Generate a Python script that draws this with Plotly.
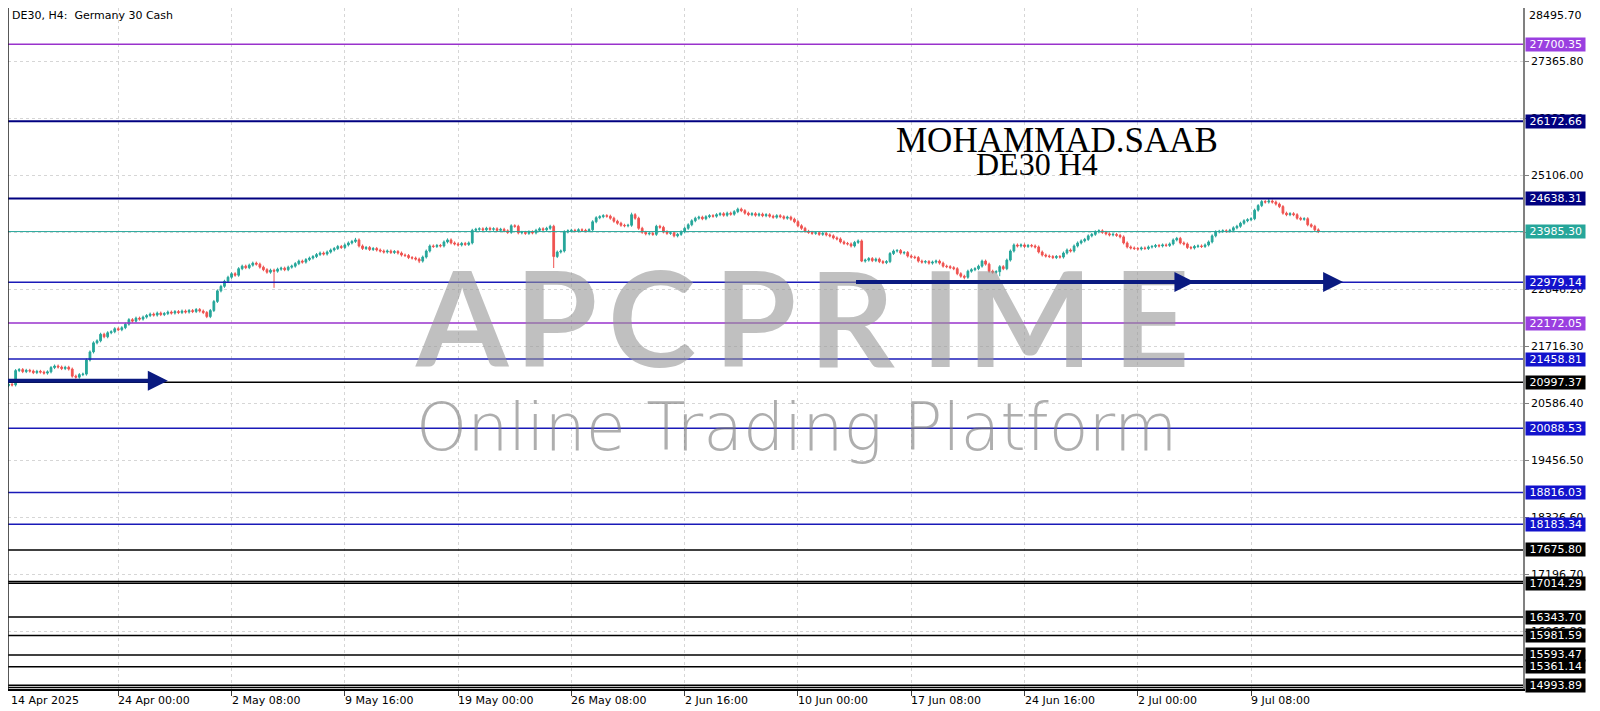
import plotly.graph_objects as go

# ---------------- data ----------------
closes = [
    20930, 20960, 20945, 21230, 21250, 21210, 21235, 21220, 21190, 21215,
    21200, 21180, 21205, 21290, 21320, 21300, 21270, 21295, 21260, 21120,
    21100, 21150, 21160, 21440, 21600, 21780, 21820, 21950, 21900, 21980,
    22000, 22060, 22040, 22080, 22150, 22240, 22210, 22270, 22250, 22290,
    22320, 22350, 22330, 22370, 22340, 22360, 22390, 22370, 22400, 22380,
    22410, 22390, 22420, 22400, 22440, 22410, 22380, 22300, 22420, 22600,
    22810, 22900, 23000, 23080, 23150, 23120, 23250, 23300, 23270, 23320,
    23360, 23340, 23280, 23230, 23180, 23220, 23200, 23240, 23260, 23230,
    23280, 23300, 23350, 23400, 23380, 23430, 23460, 23490, 23530, 23560,
    23540, 23580, 23620, 23650, 23690, 23670, 23720, 23760, 23790, 23820,
    23700, 23650, 23670, 23630, 23650, 23620, 23600, 23580, 23600, 23570,
    23590, 23560, 23520, 23510, 23470, 23460, 23440, 23400, 23480, 23600,
    23700, 23690, 23710, 23700, 23780, 23820, 23760, 23740, 23720, 23750,
    23730, 23760, 24010, 24030, 24040, 24020, 24050, 24030, 24040, 24010,
    24030, 24000, 23970, 24100, 24090, 23960, 23970, 23950, 23980, 23960,
    24010, 24040, 24020, 24050, 24090, 23490, 23580, 23600, 23980, 24000,
    24010, 24000, 24020, 24010, 24000, 24020, 24180, 24260, 24280, 24300,
    24290, 24250, 24190, 24150, 24110, 24100, 24110, 24320, 24250, 24050,
    23970, 23940, 23950, 23930, 24090, 24070, 23980, 23950, 23960, 23900,
    23930, 23980, 24050, 24120, 24200, 24250, 24270, 24240, 24280, 24300,
    24290, 24320, 24340, 24310, 24350, 24330, 24380, 24430, 24400, 24350,
    24320, 24340, 24310, 24330, 24300, 24320, 24290, 24270, 24300, 24280,
    24250, 24270, 24230, 24180, 24100, 24050, 23990, 23970, 23950, 23960,
    23930, 23950, 23920, 23900, 23860, 23840, 23780, 23750, 23740, 23700,
    23770, 23800, 23400, 23420, 23450, 23410, 23440, 23390, 23370, 23390,
    23550, 23600, 23610, 23560, 23570, 23500, 23480, 23470, 23400, 23380,
    23390, 23360, 23380, 23400, 23360, 23300, 23290, 23270, 23250, 23150,
    23100, 23080, 23200, 23230, 23250, 23300, 23400, 23340, 23200, 23180,
    23190, 23290, 23250, 23420, 23600, 23720, 23700, 23720, 23690, 23710,
    23700, 23680, 23580, 23520, 23500, 23490, 23470, 23490, 23480, 23560,
    23620, 23600, 23700, 23760, 23800, 23830, 23900, 23930, 23980, 24000,
    23970, 23940, 23920, 23930, 23910, 23880, 23760, 23680, 23660, 23650,
    23640, 23660, 23650, 23680, 23690, 23710, 23700, 23720, 23710, 23740,
    23820, 23850, 23760, 23740, 23670, 23660, 23690, 23700, 23690, 23720,
    23780, 23900, 23980, 23990, 24000, 23990, 24010, 24060, 24090, 24150,
    24200, 24220, 24240, 24410, 24500, 24580, 24570, 24590, 24570, 24530,
    24480, 24350, 24320, 24340, 24320, 24250, 24230, 24240, 24120, 24090,
    24020, 23985.30,
]
first_open = 20910
long_highs = {99: 23860, 177: 24360, 207: 24460, 357: 24630}
long_lows = {76: 22870, 117: 23360, 155: 23263, 242: 23380, 271: 23040, 281: 23100}

x_tick_bars = [0, 32, 64, 96, 128, 160, 192, 224, 256, 288, 320, 352]
x_tick_labels = ["14 Apr 2025", "24 Apr 00:00", "2 May 08:00", "9 May 16:00",
                 "19 May 00:00", "26 May 08:00", "2 Jun 16:00", "10 Jun 00:00",
                 "17 Jun 08:00", "24 Jun 16:00", "2 Jul 00:00", "9 Jul 08:00"]

y_tick_vals = [28495.70, 27365.80, 26235.90, 25106.00, 23976.10, 22846.20,
               21716.30, 20586.40, 19456.50, 18326.60, 17196.70, 16066.80]

level_values = [27700.35, 26172.66, 24638.31, 23985.30, 22979.14, 22172.05,
                21458.81, 20997.37, 20088.53, 18816.03, 18183.34, 17675.80,
                17050.00, 17014.29, 16343.70, 15981.59, 15593.47, 15361.14,
                14993.89, 14950.00]
level_kinds = ["purple", "navy", "navy", "current", "blue", "purple",
               "blue", "black", "blue", "blue", "blue", "black",
               "black", "black", "black", "black", "black", "black",
               "black", "black"]
level_show_label = [True, True, True, True, True, True, True, True, True, True,
                    True, True, False, True, True, True, True, True, True, False]

arrows = [  # (start bar, end bar, price)
    (0, 46, 21030),
    (240, 336, 22985),
    (240, 378, 22985),
]

symbol_text = "DE30, H4:  Germany 30 Cash"
author_text = "MOHAMMAD.SAAB"
sub_text = "DE30 H4"
logo_letters = ["A", "P", "C", "P", "R", "I", "M", "E"]
logo_tagline = "Online Trading Platform"

# ---------------- geometry (page pixels; the page body adds an 8px offset) ----------------
OFF = 8
W, H = 1600 - OFF, 711 - OFF
PLOT_RIGHT_PAGE, PLOT_BOTTOM_PAGE = 1523, 689
BAR0_PX, BAR_PX = 5.0, 3.54           # page x of bar 0, pixels per bar
Y_REF_PX, Y_REF_VAL, VAL_PER_PX = 4.0, 28495.7, 19.82

def bar_at(px):
    return (px - BAR0_PX) / BAR_PX

def val_at(py):
    return Y_REF_VAL - (py - Y_REF_PX) * VAL_PER_PX

x_range = [bar_at(OFF), bar_at(PLOT_RIGHT_PAGE)]
y_range = [val_at(PLOT_BOTTOM_PAGE), val_at(OFF)]

# ---------------- build ----------------
n = len(closes)
bars = list(range(n))
opens = [first_open] + closes[:-1]
wick = 30
highs = [long_highs.get(i, max(o, c) + wick) for i, (o, c) in enumerate(zip(opens, closes))]
lows = [long_lows.get(i, min(o, c) - wick) for i, (o, c) in enumerate(zip(opens, closes))]

style = {
    "purple": dict(line="#9932CC", bg="#9A3FE0", width=1.5),
    "navy": dict(line="#000080", bg="#000080", width=2),
    "current": dict(line="#26A69A", bg="#26A69A", width=1),
    "blue": dict(line="#1A1AB8", bg="#1212CC", width=1.5),
    "black": dict(line="#000000", bg="#000000", width=1.5),
}

fig = go.Figure()
fig.add_trace(go.Candlestick(
    x=bars, open=opens, high=highs, low=lows, close=closes,
    increasing=dict(line=dict(color="#26A69A", width=1), fillcolor="#26A69A"),
    decreasing=dict(line=dict(color="#EF5350", width=1), fillcolor="#EF5350"),
    whiskerwidth=0, showlegend=False, hoverinfo="skip",
))

shapes = []
annotations = []

# watermark logo letters (page x centres)
letter_px = [462, 556, 652, 755, 852, 940, 1030, 1151]
for ch, px in zip(logo_letters, letter_px):
    annotations.append(dict(
        text=ch, x=bar_at(px), y=val_at(315), xref="x", yref="y", showarrow=False,
        xanchor="center", yanchor="middle",
        font=dict(family="Lato", size=133, weight=700, color="rgba(150,150,150,0.6)"),
    ))
annotations.append(dict(
    text=logo_tagline, x=bar_at(796), y=val_at(427), xref="x", yref="y", showarrow=False,
    xanchor="center", yanchor="middle",
    font=dict(family="DejaVu Sans", size=65, weight=300, color="rgba(120,120,120,0.6)"),
))

for v, k in zip(level_values, level_kinds):
    s = style[k]
    shapes.append(dict(type="line", xref="paper", x0=0, x1=1, yref="y", y0=v, y1=v,
                       line=dict(color=s["line"], width=s["width"]), layer="above"))

for v, k, show in zip(level_values, level_kinds, level_show_label):
    if not show:
        continue
    s = style[k]
    annotations.append(dict(
        text="\u00a0" + f"{v:.2f}" + "\u00a0", x=1, xref="paper", xanchor="left", xshift=2,
        y=v, yref="y", yanchor="middle", showarrow=False, bgcolor=s["bg"],
        borderpad=0, font=dict(family="DejaVu Sans", size=11, color="white"),
    ))

for b0, b1, p in arrows:
    annotations.append(dict(
        x=b1, y=p, ax=b0, ay=p, xref="x", yref="y", axref="x", ayref="y",
        text="", showarrow=True, arrowhead=2, arrowsize=1, arrowwidth=4,
        arrowcolor="#0A1A80", standoff=0, startstandoff=0,
    ))

for i, (b, lab) in enumerate(zip(x_tick_bars, x_tick_labels)):
    annotations.append(dict(
        text=lab, x=(0 if i == 0 else b), xref=("paper" if i == 0 else "x"),
        xanchor="left", xshift=(1 if i == 0 else -2), y=0, yref="paper",
        yanchor="top", yshift=-3, showarrow=False,
        font=dict(family="DejaVu Sans", size=11, color="black"),
    ))

# top tick label that falls outside the visible range
annotations.append(dict(
    text=f"{y_tick_vals[0]:.2f}", x=1, xref="paper", xanchor="left", xshift=4,
    y=1, yref="paper", yanchor="top", yshift=1, showarrow=False,
    font=dict(family="DejaVu Sans", size=11, color="black"),
))

annotations.append(dict(
    text=symbol_text, x=0, y=1, xref="paper", yref="paper", xanchor="left", yanchor="top",
    xshift=2, yshift=1, showarrow=False, font=dict(family="DejaVu Sans", size=11, color="black"),
))
annotations.append(dict(
    text=author_text, x=bar_at(1057), y=val_at(140), xref="x", yref="y", showarrow=False,
    font=dict(family="Liberation Serif", size=35, color="black"), xanchor="center", yanchor="middle",
))
annotations.append(dict(
    text=sub_text, x=bar_at(1037), y=val_at(164), xref="x", yref="y", showarrow=False,
    font=dict(family="Liberation Serif", size=32, color="black"), xanchor="center", yanchor="middle",
))

# left border
shapes.append(dict(type="line", xref="paper", yref="paper", x0=0, x1=0, y0=0, y1=1,
                   line=dict(color="#202020", width=1.5)))

fig.update_layout(
    width=W, height=H,
    margin=dict(l=0, r=W - (PLOT_RIGHT_PAGE - OFF), t=0, b=H - (PLOT_BOTTOM_PAGE - OFF)),
    paper_bgcolor="white", plot_bgcolor="white",
    shapes=shapes, annotations=annotations, showlegend=False,
    font=dict(family="DejaVu Sans", size=11, color="black"),
    xaxis=dict(
        range=x_range, rangeslider=dict(visible=False), fixedrange=True,
        tickvals=x_tick_bars, showticklabels=False, ticks="outside", ticklen=5,
        tickcolor="#404040", showline=True, linecolor="black", linewidth=1.5,
        showgrid=True, gridcolor="#D6D6D6", griddash="dot", gridwidth=1, zeroline=False,
    ),
    yaxis=dict(
        side="right", range=y_range, fixedrange=True,
        tickvals=y_tick_vals, ticktext=[f"{v:.2f}" for v in y_tick_vals],
        ticks="outside", ticklen=4, tickcolor="#808080",
        showline=True, linecolor="#808080", linewidth=1.5,
        showgrid=True, gridcolor="#D6D6D6", griddash="dot", gridwidth=1, zeroline=False,
        tickfont=dict(family="DejaVu Sans", size=11, color="black"),
    ),
)

fig.write_html("out.html")
